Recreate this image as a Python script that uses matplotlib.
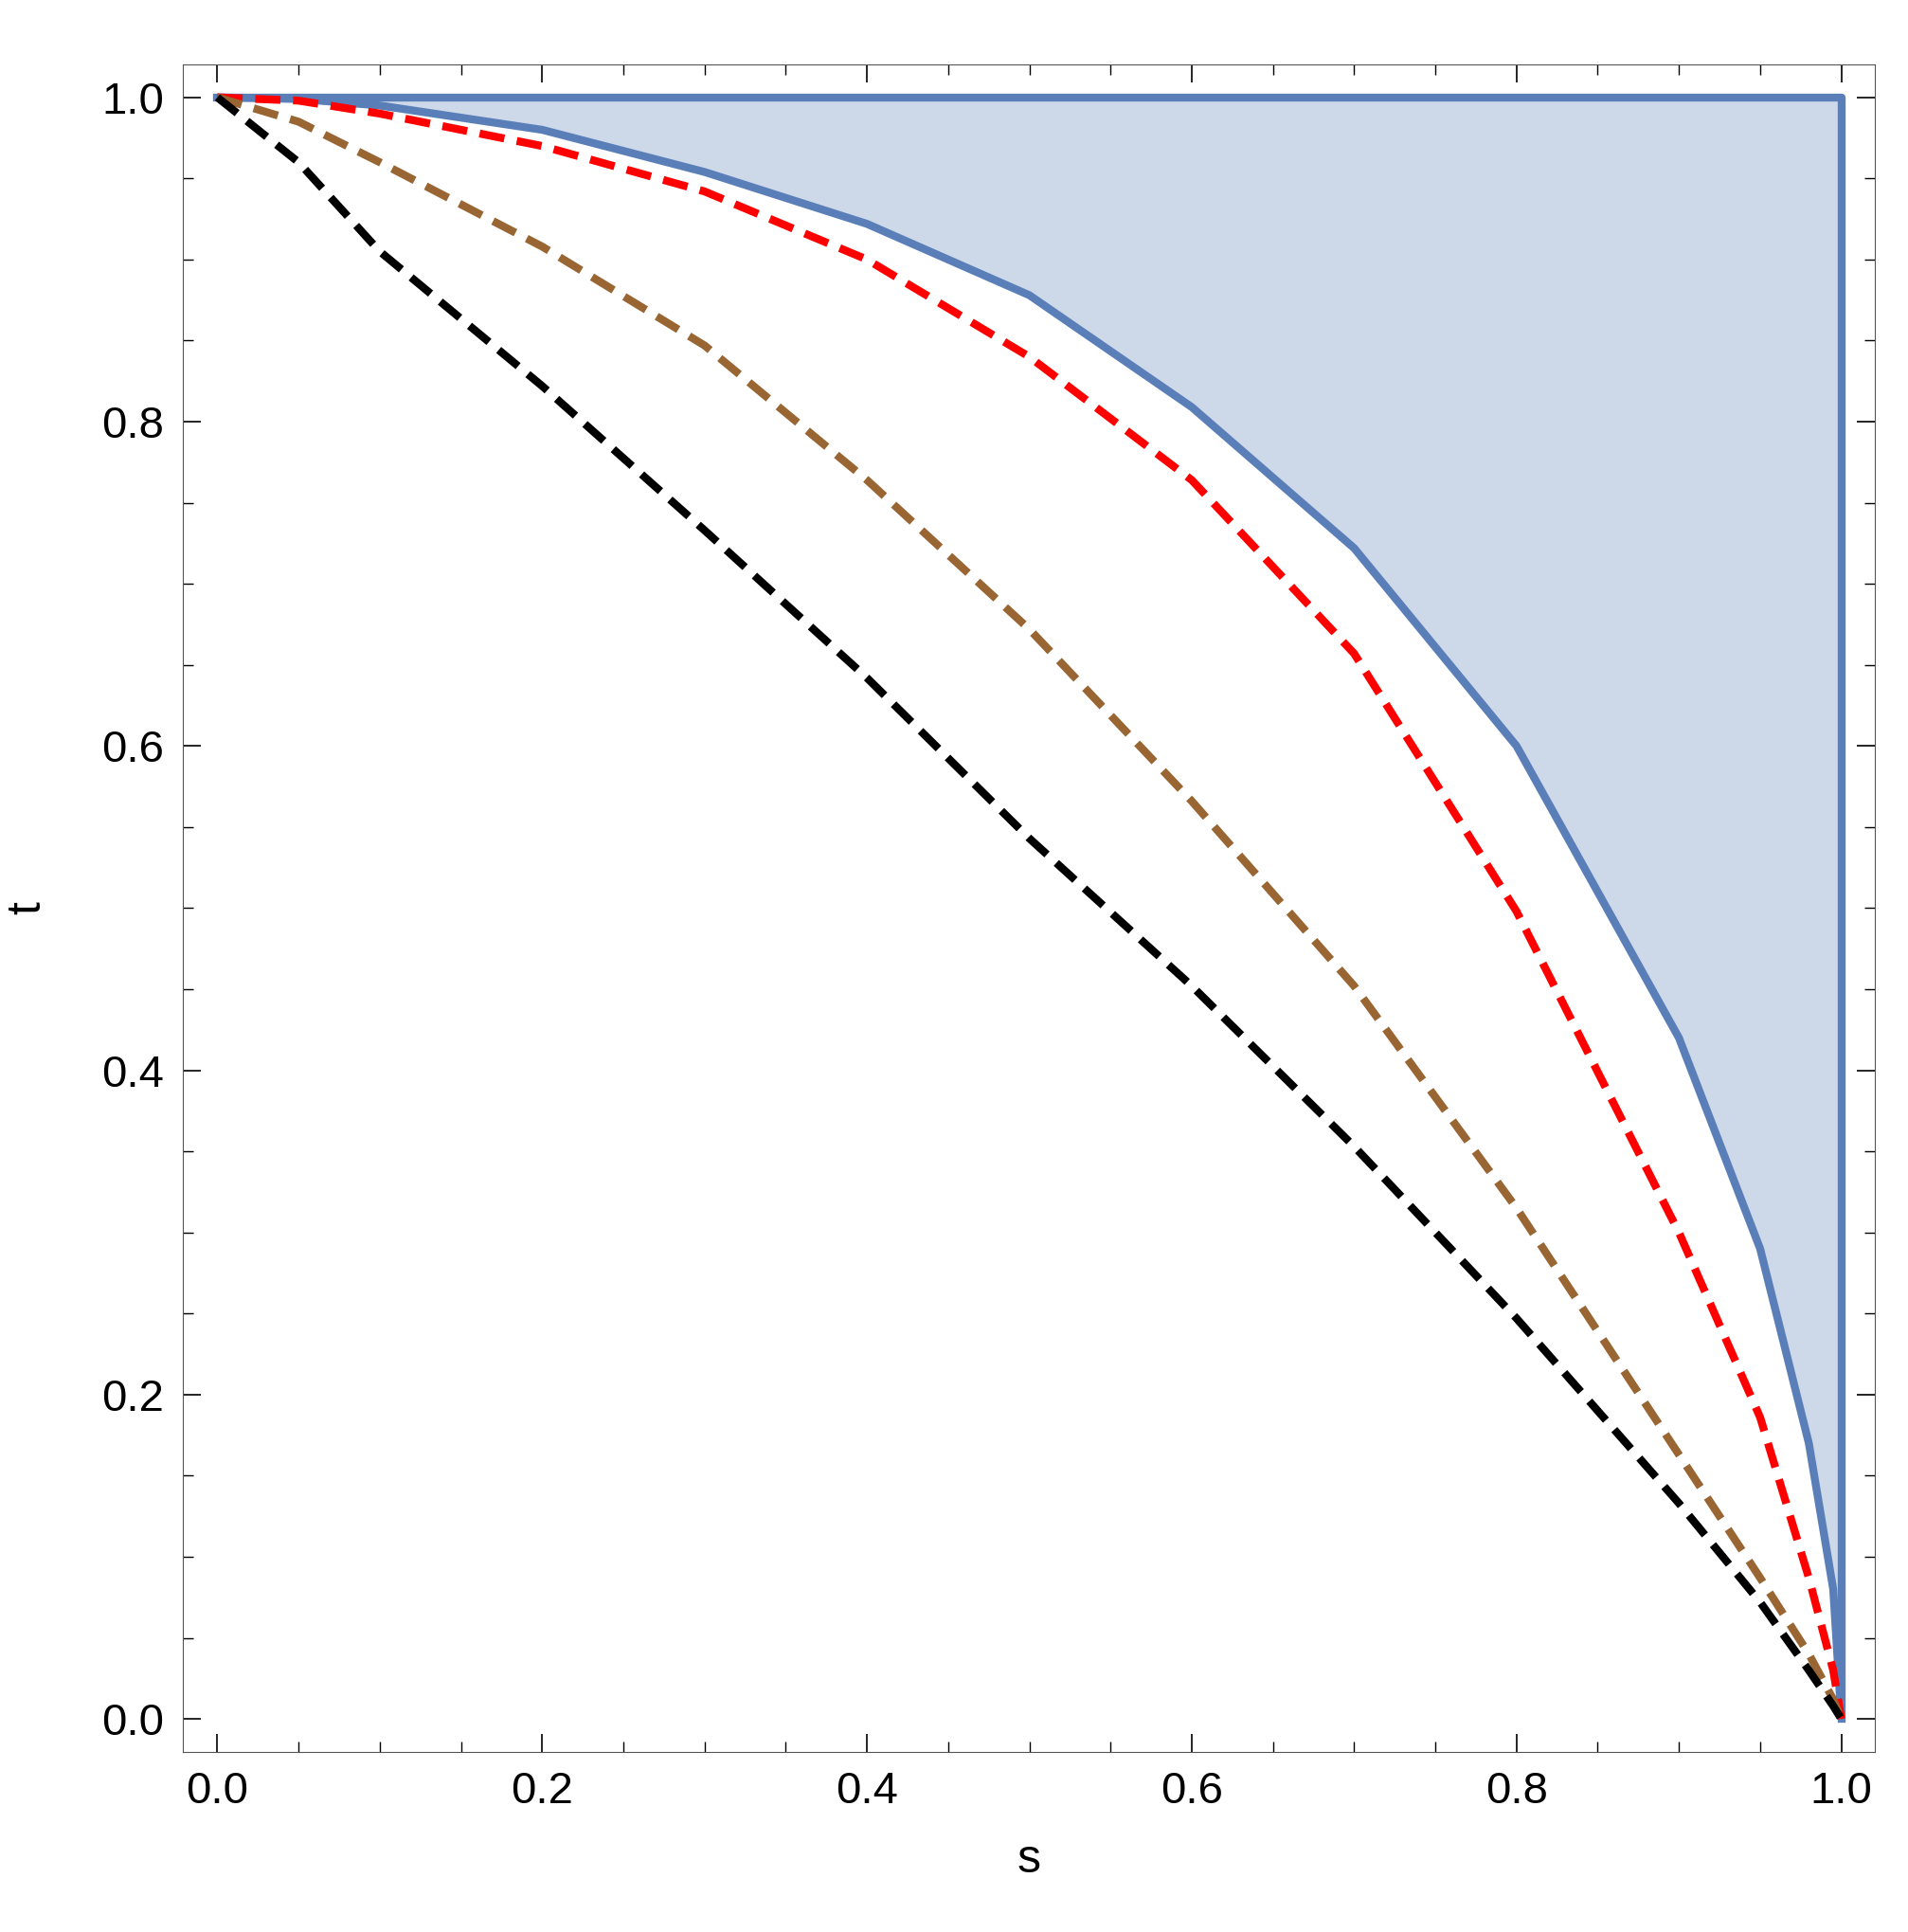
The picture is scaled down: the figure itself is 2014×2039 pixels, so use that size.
import matplotlib
matplotlib.use("Agg")
import matplotlib.pyplot as plt
from matplotlib.ticker import MultipleLocator

plt.rcParams['font.family'] = ['Liberation Sans', 'DejaVu Sans']

# values
s_vals = [0.0, 0.05, 0.1, 0.2, 0.3, 0.4, 0.5, 0.6, 0.7, 0.8, 0.9, 0.95, 0.98, 0.995, 1.0]
t_blue = [1.0, 0.999, 0.995, 0.98, 0.954, 0.922, 0.878, 0.809, 0.722, 0.600, 0.42, 0.29, 0.17, 0.08, 0.0]
t_red = [1.0, 0.998, 0.99, 0.97, 0.942, 0.90, 0.84, 0.764, 0.657, 0.498, 0.30, 0.186, 0.087, 0.03, 0.0]
t_brown = [1.0, 0.985, 0.96, 0.908, 0.847, 0.764, 0.672, 0.566, 0.452, 0.315, 0.163, 0.087, 0.04, 0.012, 0.0]
t_black = [1.0, 0.96, 0.905, 0.822, 0.733, 0.642, 0.543, 0.452, 0.353, 0.247, 0.133, 0.072, 0.03, 0.008, 0.0]

blue = "#5a7fb8"
fig = plt.figure(figsize=(20.14, 20.39), dpi=100)
ax = fig.add_axes([0.0958, 0.0931, 0.8867, 0.8737])

ax.fill_between(s_vals, t_blue, 1.0, color=blue, alpha=0.3, lw=0)
ax.plot(s_vals, t_blue, color=blue, lw=6, solid_capstyle="butt")
ax.plot([0, 1, 1], [1, 1, 0], color=blue, lw=6)
ax.plot(s_vals, t_red, color="#ff0000", lw=6, dashes=(3.2, 1.6))
ax.plot(s_vals, t_brown, color="#996633", lw=6, dashes=(3.2, 1.6))
ax.plot(s_vals, t_black, color="black", lw=6, dashes=(3.2, 1.6))

ax.set_xlim(-0.0213, 1.0205)
ax.set_ylim(-0.0205, 1.0205)
for axis in (ax.xaxis, ax.yaxis):
    axis.set_major_locator(MultipleLocator(0.2))
    axis.set_minor_locator(MultipleLocator(0.05))
ax.tick_params(which="both", direction="in", top=True, right=True, labelsize=34, pad=14)
ax.tick_params(which="major", length=14, width=1.2)
ax.tick_params(which="minor", length=8, width=1)
ax.xaxis.set_major_formatter(plt.FuncFormatter(lambda v, p: f"{v:.1f}"))
ax.yaxis.set_major_formatter(plt.FuncFormatter(lambda v, p: f"{v:.1f}"))
for sp in ax.spines.values():
    sp.set_color("#555555")
ax.set_xlabel("s", fontsize=36, labelpad=20)
ax.set_ylabel("t", fontsize=36, labelpad=40)

fig.savefig("out.png")
